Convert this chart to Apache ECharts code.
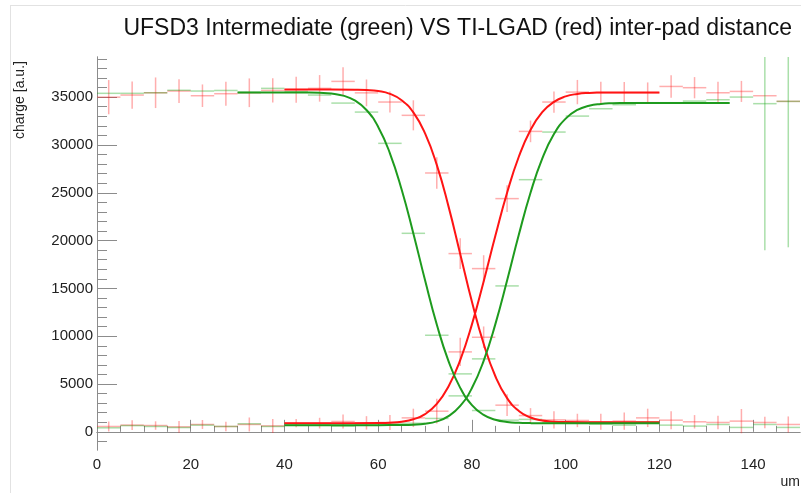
<!DOCTYPE html>
<html>
<head>
<meta charset="utf-8">
<title>UFSD3 vs TI-LGAD inter-pad distance</title>
<script src="https://cdn.jsdelivr.net/npm/echarts@6/dist/echarts.min.js"></script>
<style>
    html, body { margin: 0; padding: 0; background: #fff; }
    #chart { width: 801px; height: 493px; }
</style>
</head>
<body>
<div id="chart"></div>
<script>
// bin centres (5 um bins)
var binCenters = [2.5, 7.5, 12.5, 17.5, 22.5, 27.5, 32.5, 37.5, 42.5, 47.5, 52.5, 57.5, 62.5, 67.5, 72.5,
    77.5, 82.5, 87.5, 92.5, 97.5, 102.5, 107.5, 112.5, 117.5, 122.5, 127.5, 132.5, 137.5, 142.5, 147.5];
var binHalfWidth = 2.5;

// TI-LGAD (red) pad on the left
var redHigh = [35000, 35220, 35460, 35640, 35150, 35360, 35460, 35700, 35780, 35920, 36650, 35450, 34490, 33100, 27070,
    18640, 9890, 2790, 1700, 1250, 1190, 1050, 1120, 1460, 1220, 1050, 980, 1120, 980, 770];
var redHighErr = [1790, 1430, 1600, 1240, 1180, 1250, 1500, 1270, 1360, 1390, 1480, 1400, 1100, 1570, 1650,
    1600, 1130, 1130, 780, 900, 700, 840, 900, 960, 940, 700, 700, 1270, 610, 840];
// TI-LGAD (red) pad on the right
var redLow = [560, 700, 660, 520, 770, 560, 770, 620, 910, 910, 1080, 940, 980, 1460, 2160,
    8360, 17070, 24390, 31420, 34490, 35530, 35460, 35460, 35460, 36120, 35990, 35460, 35600, 35150, 34560];
var redLowErr = [520, 520, 440, 610, 470, 490, 730, 730, 440, 560, 730, 700, 780, 960, 1300,
    1480, 1400, 1390, 1130, 1110, 1270, 1150, 1130, 1080, 1170, 1110, 1150, 1100, 0, 0];
// UFSD3 (green) pad on the left
var greenHigh = [35400, 35400, 35460, 35720, 35640, 35700, 35500, 35920, 35570, 35220, 34380, 33440, 30170, 20760, 10100,
    6060, 2230, 1220, 1300, 990, 910, 800, 700, 1050, 700, 600, 770, 460, 770, 460];
var greenHighErr = [0, 0, 0, 0, 0, 0, 0, 0, 0, 0, 0, 0, 0, 0, 0,
    0, 0, 0, 0, 0, 0, 0, 0, 0, 0, 0, 0, 0, 0, 0];
// UFSD3 (green) pad on the right
var greenLow = [420, 650, 560, 450, 700, 560, 840, 560, 840, 840, 600, 700, 830, 900, 1400,
    3760, 7630, 15260, 26370, 31350, 33020, 33790, 34210, 34420, 34420, 34590, 34730, 35010, 34320, 34560];
var greenLowErr = [0, 0, 0, 0, 0, 0, 0, 0, 0, 0, 0, 0, 0, 0, 0,
    0, 0, 0, 0, 0, 0, 0, 0, 0, 0, 0, 0, 0, 15330, 15260];

// fitted curves
var redFallX = [40, 45, 50, 55, 57.5, 60, 62.5, 65, 67.5, 70, 72.5, 75, 77.5, 80, 82.5, 85, 87.5, 90, 92.5, 95, 97.5, 100, 105, 110, 115, 120];
var redFallY = [35800, 35800, 35800, 35784, 35748, 35633, 35341, 34679, 33406, 31213, 27914, 23578, 18609, 13598, 9206, 5813, 3530, 2187, 1498, 1181, 1059, 1017, 1000, 1000, 1000, 1000];
var redRiseX = [40, 45, 50, 55, 60, 62.5, 65, 67.5, 70, 72.5, 75, 77.5, 80, 82.5, 85, 87.5, 90, 92.5, 95, 97.5, 100, 102.5, 105, 107.5, 110, 115, 120];
var redRiseY = [900, 900, 900, 900, 917, 952, 1056, 1312, 1848, 2914, 4748, 7502, 11238, 15730, 20494, 24995, 28767, 31573, 33427, 34514, 35078, 35338, 35445, 35483, 35500, 35500, 35500];
var greenFallX = [30, 35, 40, 45, 47.5, 50, 52.5, 55, 57.5, 60, 62.5, 65, 67.5, 70, 72.5, 75, 77.5, 80, 82.5, 85, 87.5, 90, 92.5, 95, 100, 105, 110, 115, 120];
var greenFallY = [35500, 35500, 35500, 35490, 35458, 35375, 35157, 34656, 33656, 31888, 29130, 25341, 20753, 15851, 11225, 7398, 4599, 2796, 1772, 1260, 1031, 942, 911, 900, 900, 900, 900, 900, 900];
var greenRiseX = [40, 45, 50, 55, 60, 65, 67.5, 70, 72.5, 75, 77.5, 80, 82.5, 85, 87.5, 90, 92.5, 95, 97.5, 100, 102.5, 105, 107.5, 110, 112.5, 115, 120, 125, 130, 135];
var greenRiseY = [700, 700, 700, 700, 700, 713, 747, 845, 1091, 1637, 2712, 4579, 7430, 11265, 15821, 20603, 25001, 28573, 31138, 32755, 33659, 34100, 34292, 34366, 34390, 34400, 34400, 34400, 34400, 34400];

// axis ticks
var xMajorTicks = [0, 20, 40, 60, 80, 100, 120, 140];
var xMinorTicks = [5, 10, 15, 25, 30, 35, 45, 50, 55, 65, 70, 75, 85, 90, 95, 105, 110, 115, 125, 130, 135, 145];
var yMajorTicks = [0, 5000, 10000, 15000, 20000, 25000, 30000, 35000];
var yMinorTicks = [-1000, 1000, 2000, 3000, 4000, 6000, 7000, 8000, 9000, 11000, 12000, 13000, 14000, 16000, 17000, 18000, 19000,
    21000, 22000, 23000, 24000, 26000, 27000, 28000, 29000, 31000, 32000, 33000, 34000, 36000, 37000, 38000, 39000];

var X_MIN = 0, X_MAX = 150, Y_MIN = -1900, Y_MAX = 39200;
var FONT = 'Liberation Sans';
var AXIS_COLOR = '#8c8c8c';

function toPoints(xs, ys, errs) {
    var out = [];
    for (var i = 0; i < xs.length; i++) {
        out.push([xs[i], ys[i], errs ? errs[i] : 0]);
    }
    return out;
}

// draws the histogram bin as a cross: bin width horizontally, error vertically
function errorCross(color) {
    return function (params, api) {
        var x = api.value(0), y = api.value(1), e = api.value(2);
        if (y < Y_MIN || y > Y_MAX) return null;
        var left = api.coord([x - binHalfWidth, y]);
        var right = api.coord([x + binHalfWidth, y]);
        var children = [{
            type: 'line',
            shape: { x1: left[0], y1: left[1], x2: right[0], y2: right[1] },
            style: { stroke: color, lineWidth: 1.5 },
        }];
        if (e > 0) {
            var lo = api.coord([x, Math.max(y - e, Y_MIN)]);
            var hi = api.coord([x, Math.min(y + e, Y_MAX)]);
            children.push({
                type: 'line',
                shape: { x1: lo[0], y1: lo[1], x2: hi[0], y2: hi[1] },
                style: { stroke: color, lineWidth: 1.5 },
            });
        }
        return { type: 'group', children: children };
    };
}

var RED_PTS = 'rgba(255, 30, 30, 0.36)';
var GREEN_PTS = 'rgba(20, 165, 20, 0.36)';
var RED_FIT = '#ff1414';
var GREEN_FIT = '#1e9b1e';

function histSeries(name, ys, errs, color) {
    return {
        name: name,
        type: 'custom',
        renderItem: errorCross(color),
        encode: { x: 0, y: 1 },
        data: toPoints(binCenters, ys, errs),
        silent: true,
        z: 2,
    };
}

function fitSeries(name, xs, ys, color) {
    var data = [];
    for (var i = 0; i < xs.length; i++) data.push([xs[i], ys[i]]);
    return {
        name: name,
        type: 'line',
        data: data,
        showSymbol: false,
        smooth: 0.5,
        lineStyle: { color: color, width: 2 },
        silent: true,
        animation: false,
        z: 5,
    };
}

function plainNumber(v) {
    return String(v);
}

var axisBase = {
    type: 'value',
    splitLine: { show: false },
    axisLine: { show: true, lineStyle: { color: AXIS_COLOR, width: 1 } },
};

var myChart = echarts.init(document.getElementById('chart'), null, { renderer: 'canvas' });
var option = {
    animation: false,
    backgroundColor: '#ffffff',
    title: {
        text: 'UFSD3 Intermediate (green) VS TI-LGAD (red) inter-pad distance',
        right: 4,
        top: 12,
        textStyle: { fontFamily: FONT, fontSize: 23, fontWeight: 'normal', color: '#111' },
    },
    grid: { left: 97, right: 1, top: 57, bottom: 43, containLabel: false },
    xAxis: [
        Object.assign({}, axisBase, {
            min: X_MIN, max: X_MAX, position: 'bottom',
            axisTick: { inside: true, length: 12, customValues: xMajorTicks, lineStyle: { color: AXIS_COLOR } },
            axisLabel: { customValues: xMajorTicks, formatter: plainNumber, margin: 7, fontFamily: FONT, fontSize: 15, color: '#222' },
        }),
        Object.assign({}, axisBase, {
            min: X_MIN, max: X_MAX, position: 'bottom',
            axisTick: { inside: true, length: 6, customValues: xMinorTicks, lineStyle: { color: AXIS_COLOR } },
            axisLabel: { show: false },
        }),
    ],
    yAxis: [
        Object.assign({}, axisBase, {
            min: Y_MIN, max: Y_MAX, position: 'left',
            axisTick: { inside: true, length: 20, customValues: yMajorTicks, lineStyle: { color: AXIS_COLOR } },
            axisLabel: { customValues: yMajorTicks, formatter: plainNumber, margin: 4, fontFamily: FONT, fontSize: 15, color: '#222' },
        }),
        Object.assign({}, axisBase, {
            min: Y_MIN, max: Y_MAX, position: 'left',
            axisTick: { inside: true, length: 10, customValues: yMinorTicks, lineStyle: { color: AXIS_COLOR } },
            axisLabel: { show: false },
        }),
    ],
    graphic: [
        // faint frame of the original canvas
        { type: 'line', shape: { x1: 10, y1: 5.5, x2: 801, y2: 5.5 }, style: { stroke: '#e2e2e2', lineWidth: 1 } },
        { type: 'line', shape: { x1: 10.5, y1: 5, x2: 10.5, y2: 493 }, style: { stroke: '#e2e2e2', lineWidth: 1 } },
        {
            type: 'text', x: 20, y: 100, rotation: Math.PI / 2,
            style: { text: 'charge [a.u.]', fontFamily: FONT, fontSize: 14, fill: '#222', textAlign: 'center', textVerticalAlign: 'middle' },
        },
        {
            type: 'text', x: 800, y: 482,
            style: { text: 'um', fontFamily: FONT, fontSize: 14, fill: '#222', textAlign: 'right', textVerticalAlign: 'middle' },
        },
    ],
    series: [
        histSeries('red left', redHigh, redHighErr, RED_PTS),
        histSeries('red right', redLow, redLowErr, RED_PTS),
        histSeries('green left', greenHigh, greenHighErr, GREEN_PTS),
        histSeries('green right', greenLow, greenLowErr, GREEN_PTS),
        fitSeries('red left fit', redFallX, redFallY, RED_FIT),
        fitSeries('red right fit', redRiseX, redRiseY, RED_FIT),
        fitSeries('green left fit', greenFallX, greenFallY, GREEN_FIT),
        fitSeries('green right fit', greenRiseX, greenRiseY, GREEN_FIT),
    ],
};
myChart.setOption(option);
</script>
</body>
</html>
